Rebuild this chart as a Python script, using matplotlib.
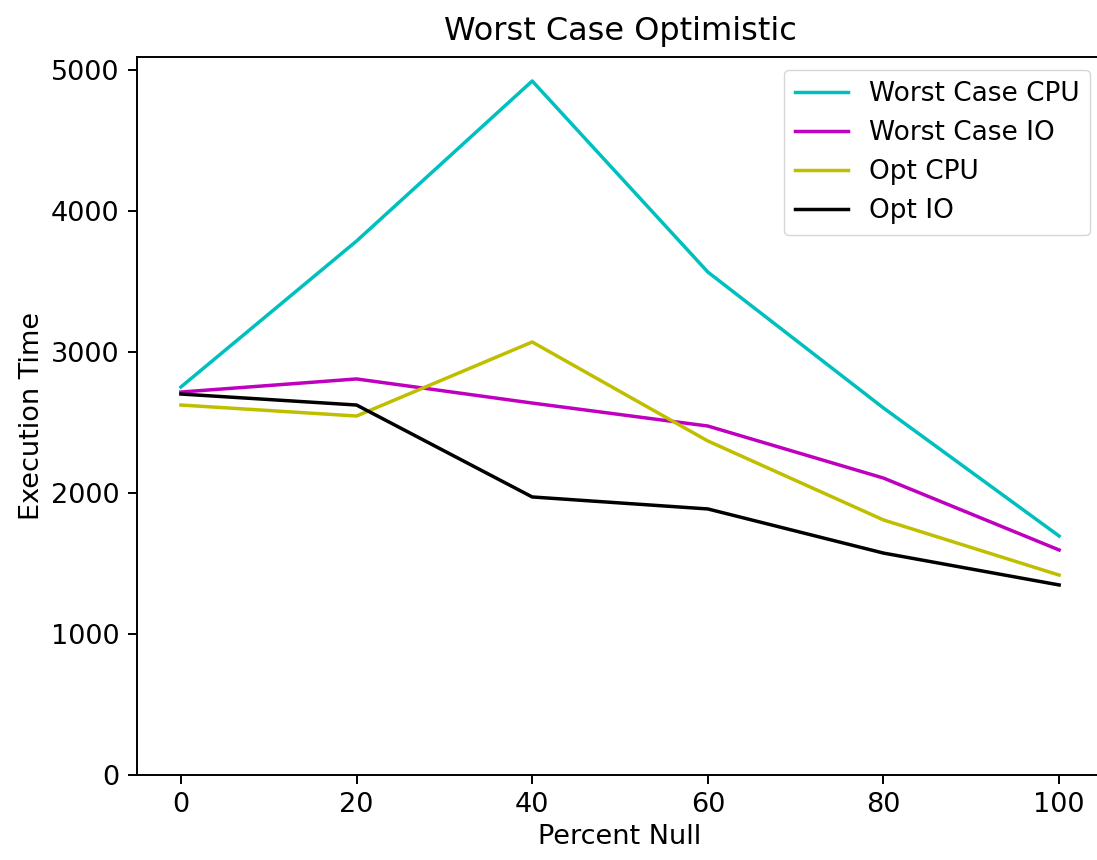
import matplotlib
matplotlib.use('Agg')
import matplotlib.pyplot as plt

# valores
percent_null = [0, 20, 40, 60, 80, 100]
worst_cpu = [2752, 3787, 4922, 3567, 2603, 1695]
worst_io = [2716, 2809, 2638, 2475, 2106, 1596]
opt_cpu = [2624, 2546, 3071, 2369, 1809, 1418]
opt_io = [2702, 2624, 1972, 1887, 1574, 1348]

plt.rcParams['axes.linewidth'] = 1.4

fig = plt.figure(figsize=(10.97, 8.6), dpi=100)
# el eje sobrepasa un poco el borde derecho, como en la imagen original
ax = fig.add_axes([0.1249, 0.0988, 0.8806, 0.8349])

ax.plot(percent_null, worst_cpu, color='c', lw=2.5, label='Worst Case CPU')
ax.plot(percent_null, worst_io, color='m', lw=2.5, label='Worst Case IO')
ax.plot(percent_null, opt_cpu, color='y', lw=2.5, label='Opt CPU')
ax.plot(percent_null, opt_io, color='k', lw=2.5, label='Opt IO')

ax.set_ylim(0, 5092)
ax.set_xlim(-5, 105)
ax.set_xticks(percent_null)
ax.set_yticks([0, 1000, 2000, 3000, 4000, 5000])
ax.tick_params(labelsize=19.5, length=6.5, width=1.4, pad=6)
ax.set_title('Worst Case Optimistic', fontsize=23, pad=12)
ax.set_xlabel('Percent Null', fontsize=19.5)
ax.set_ylabel('Execution Time', fontsize=19.5)
ax.legend(loc='upper right', fontsize=19)

fig.savefig('out.png')
